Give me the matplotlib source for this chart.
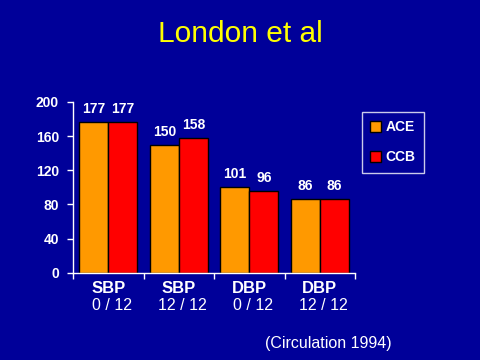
import matplotlib
matplotlib.use("Agg")
import matplotlib.pyplot as plt
import numpy as np

categories = ["SBP", "SBP", "DBP", "DBP"]
subcats = ["0 / 12", "12 / 12", "0 / 12", "12 / 12"]
series_names = ["ACE", "CCB"]
ace = [177, 150, 101, 86]
ccb = [177, 158, 96, 86]
yticks = [0, 40, 80, 120, 160, 200]

BG = "#000099"
plt.rcParams['font.family'] = ['Liberation Sans', 'DejaVu Sans']

fig = plt.figure(figsize=(4.8, 3.6), dpi=100, facecolor=BG)
ax = fig.add_axes([0.152, 0.242, 0.588, 0.475])
ax.set_facecolor(BG)

x = np.arange(len(categories))
w = 0.41
ax.bar(x - w/2, ace, w, color="#FF9900", edgecolor="black", linewidth=1, label=series_names[0])
ax.bar(x + w/2, ccb, w, color="#FF0000", edgecolor="black", linewidth=1, label=series_names[1])

for xi, (a, c) in enumerate(zip(ace, ccb)):
    ax.text(xi - w/2, a + 7, str(a), ha="center", va="bottom", color="white",
            fontsize=10, fontweight="bold")
    ax.text(xi + w/2, c + 7, str(c), ha="center", va="bottom", color="white",
            fontsize=10, fontweight="bold")

ax.set_xlim(-0.5, 3.5)
ax.set_ylim(0, 200)
ax.set_yticks(yticks)
ax.set_yticklabels([str(t) for t in yticks], color="white", fontsize=10, fontweight="bold")
ax.tick_params(axis="y", colors="white", length=4, width=1, direction="out", pad=6)
ax.set_xticks([-0.5, 0.5, 1.5, 2.5, 3.5])
ax.set_xticklabels([])
ax.tick_params(axis="x", colors="white", length=4, width=1, direction="out")
for s in ["top", "right"]:
    ax.spines[s].set_visible(False)
for s in ["left", "bottom"]:
    ax.spines[s].set_color("white")
    ax.spines[s].set_linewidth(1)

for xi, (c, sc) in enumerate(zip(categories, subcats)):
    ax.text(xi, -9, c, ha="center", va="top", color="white", fontsize=12,
            fontweight="bold", transform=ax.transData, clip_on=False)
    ax.text(xi + 0.05, -29, sc, ha="center", va="top", color="white", fontsize=11.5,
            transform=ax.transData, clip_on=False)

fig.text(0.5, 0.905, "London et al", ha="center", va="center", color="#FFFF00", fontsize=21.5)
fig.text(0.552, 0.045, "(Circulation 1994)", ha="left", va="center", color="white", fontsize=11.5)

leg = ax.legend(loc="upper left", bbox_to_anchor=(0.754, 0.689), bbox_transform=fig.transFigure,
                frameon=True, facecolor=BG, edgecolor="white",
                handlelength=0.75, handleheight=0.75, labelspacing=1.15, borderpad=0.6,
                borderaxespad=0, handletextpad=0.35, prop={"weight": "bold", "size": 10})
for t in leg.get_texts():
    t.set_color("white")
leg.get_frame().set_linewidth(1)
leg.get_frame().set_boxstyle("square", pad=0)

fig.savefig("out.png", dpi=100, facecolor=BG)
